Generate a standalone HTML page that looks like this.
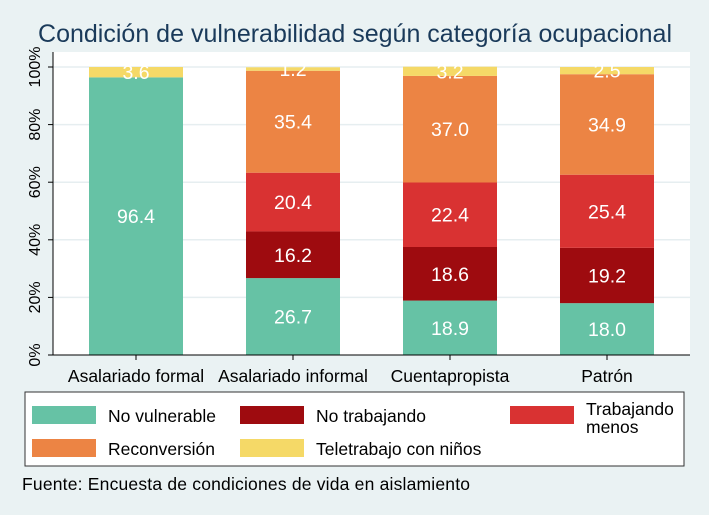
<!DOCTYPE html>
<html><head><meta charset="utf-8"><style>
body{margin:0;background:#eaf2f3;font-family:"Liberation Sans",sans-serif;}
svg{display:block}
</style></head><body>
<svg width="709" height="515">
<rect x="0" y="0" width="709" height="515" fill="#eaf2f3"/>
<text x="355" y="42" text-anchor="middle" font-size="25" fill="#1a3a5a" textLength="634">Condición de vulnerabilidad según categoría ocupacional</text>
<rect x="53" y="52" width="637" height="303" fill="#fff"/>
<g id="grid"></g><g id="bars"></g><g id="labels"></g><g id="axes"></g>
<g>
<rect x="25" y="392" width="659" height="74" fill="#fff" stroke="#333" stroke-width="1"/>
<g id="legend"></g>
</g>
<text x="22" y="490" font-size="17.5" fill="#000" textLength="448">Fuente: Encuesta de condiciones de vida en aislamiento</text>
</svg>
<script>
const categories=["Asalariado formal","Asalariado informal","Cuentapropista","Patrón"];
const seriesNames=["No vulnerable","No trabajando","Trabajando menos","Reconversión","Teletrabajo con niños"];
const noVulnerable=[96.4,26.7,18.9,18.0];
const noTrabajando=[0,16.2,18.6,19.2];
const trabajandoMenos=[0,20.4,22.4,25.4];
const reconversion=[0,35.4,37.0,34.9];
const teletrabajo=[3.6,1.2,3.2,2.5];
const yTicks=[0,20,40,60,80,100];
const colors=["#66c2a5","#9e0b0f","#d93232","#ec8444","#f5d967"];
const series=[noVulnerable,noTrabajando,trabajandoMenos,reconversion,teletrabajo];
const NS="http://www.w3.org/2000/svg";
const y=v=>355-v*2.88;
const xc=i=>136+i*157;
const bw=94;
function mk(t,a,p){const e=document.createElementNS(NS,t);for(const k in a)e.setAttribute(k,a[k]);p.appendChild(e);return e;}
const grid=document.getElementById('grid'),axes=document.getElementById('axes');
yTicks.forEach(t=>{
 if(t>0){const g=mk('line',{x1:53,x2:690,y1:y(t),y2:y(t),stroke:'#e6eef0','stroke-width':1.5},grid);
 
 }
 const tk=mk('line',{x1:48,x2:53,y1:y(t),y2:y(t),stroke:'#000'},axes);
 
 
 const tl=mk('text',{x:0,y:0,transform:`translate(40,${y(t)}) rotate(-90)`,'text-anchor':'middle','font-size':16},axes);
 tl.textContent=t+'%';
 
 
});
mk('line',{x1:53,x2:53,y1:52,y2:355,stroke:'#000'},axes);
mk('line',{x1:53,x2:690,y1:355,y2:355,stroke:'#000'},axes);
const bars=document.getElementById('bars'),labels=document.getElementById('labels');
categories.forEach((c,i)=>{
 let cum=0;
 series.forEach((s,j)=>{
  const v=s[i];
  if(v>0){
   const r=mk('rect',{x:xc(i)-bw/2,y:y(cum+v),width:bw,height:v*2.88,fill:colors[j]},bars);
   
   
   const t=mk('text',{x:xc(i),y:y(cum+v/2)+7,'text-anchor':'middle','font-size':19.5,fill:'#fff'},labels);
   t.textContent=v.toFixed(1);
   
   
  }
  cum+=v;
 });
 mk('line',{x1:xc(i),x2:xc(i),y1:355,y2:360,stroke:'#000'},axes);
 const xl=mk('text',{x:xc(i),y:382,'text-anchor':'middle','font-size':17.5},axes);
 xl.textContent=c;
 
 
});
const lg=document.getElementById('legend');
const pos=[[32,406],[240,406],[510,406],[32,439],[240,439]];
seriesNames.forEach((n,j)=>{
 const [lx,ly]=pos[j];
 const sw=mk('rect',{x:lx,y:ly,width:64,height:18,fill:colors[j]},lg);
 
 
 const t=mk('text',{x:lx+76,y:ly+16,'font-size':17.5},lg);
 if(j===2){t.setAttribute('y',ly+9);t.textContent='Trabajando';const t2=mk('text',{x:lx+76,y:ly+27,'font-size':17.5},lg);t2.textContent='menos';
  
  }
 else t.textContent=n;
 
 
});
</script>
</body></html>
